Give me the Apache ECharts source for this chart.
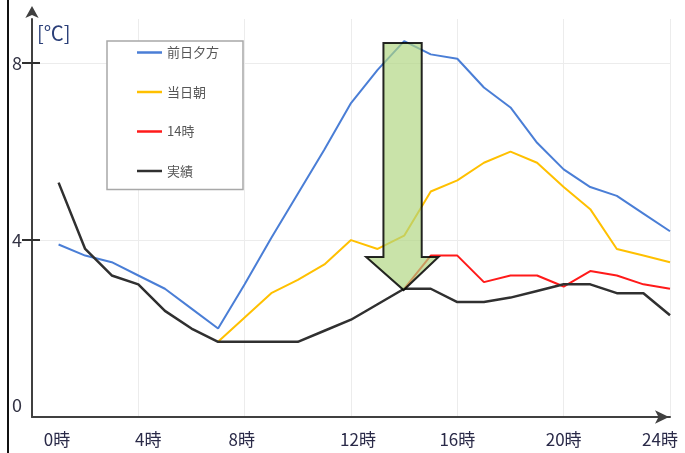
<!DOCTYPE html>
<html>
<head>
<meta charset="utf-8">
<script src="https://cdn.jsdelivr.net/npm/echarts@6/dist/echarts.min.js"></script>
<style>
  html, body { margin: 0; padding: 0; background: #fff; }
  #chart { width: 685px; height: 453px; }
</style>
</head>
<body>
<div id="chart"></div>
<script>
// hours on the x axis (時)
const hours = [1, 2, 3, 4, 5, 6, 7, 8, 9, 10, 11, 12, 13, 14, 15, 16, 17, 18, 19, 20, 21, 22, 23, 24];
const xTicks = [0, 4, 8, 12, 16, 20, 24];
const yTicks = [0, 4, 8];

// 前日夕方 forecast, hours 1..24
const zenjitsuYugata = [3.9, 3.65, 3.5, 3.2, 2.9, 2.45, 2.0, 3.0, 4.05, 5.05, 6.05, 7.1,
  7.85, 8.5, 8.2, 8.1, 7.45, 7.0, 6.2, 5.6, 5.2, 5.0, 4.6, 4.2];
// 当日朝 forecast, hours 7..24
const tojitsuAsa = [1.7, 2.25, 2.8, 3.1, 3.45, 4.0, 3.8, 4.1, 5.1, 5.35, 5.75, 6.0,
  5.75, 5.2, 4.7, 3.8, 3.65, 3.5];
// 14時 forecast, hours 14..24
const juyoji = [2.9, 3.65, 3.65, 3.05, 3.2, 3.2, 2.95, 3.3, 3.2, 3.0, 2.9];
// 実績, hours 1..24
const jisseki = [5.3, 3.8, 3.2, 3.0, 2.4, 2.0, 1.7, 1.7, 1.7, 1.7, 1.95, 2.2,
  2.55, 2.9, 2.9, 2.6, 2.6, 2.7, 2.85, 3.0, 3.0, 2.8, 2.8, 2.3];

// big down arrow annotation, outline in [hour, ℃]
const arrowShape = [[13.22, 8.46], [14.66, 8.46], [14.66, 3.62], [15.29, 3.62],
  [13.98, 2.87], [12.57, 3.62], [13.22, 3.62]];

const FONT = '"Noto Sans CJK JP", "Noto Sans", sans-serif';

// pair each value with its hour, the series starts at hours[first]
function pairs(values, firstHour) {
  const start = hours.indexOf(firstHour);
  return values.map((v, i) => [hours[start + i], v]);
}

// shift some hour labels the way the original picture has them
const labelShift = { 0: 25, 4: 10, 8: -3, 12: 7, 24: -10 };
const rich = {};
xTicks.forEach(t => {
  const s = labelShift[t] || 0;
  rich['h' + t] = {
    fontSize: 17, color: '#2a2a48', fontFamily: FONT,
    padding: s >= 0 ? [0, 0, 0, 2 * s] : [0, -2 * s, 0, 0]
  };
});

const chart = echarts.init(document.getElementById('chart'));

chart.setOption({
  animation: false,
  backgroundColor: '#fff',
  textStyle: { fontFamily: FONT },
  grid: { left: 32, right: 15, top: 19, bottom: 36, outerBoundsMode: 'none' },
  legend: {
    orient: 'vertical',
    left: 107,
    top: 41,
    backgroundColor: '#fff',
    borderColor: '#a8a8a8',
    borderWidth: 1.5,
    padding: [5, 24, 12, 30],
    itemGap: 26.5,
    itemWidth: 25,
    itemHeight: 2.5,
    icon: 'rect',
    textStyle: { fontSize: 13, color: '#555', fontFamily: FONT },
    data: ['前日夕方', '当日朝', '14時', '実績']
  },
  xAxis: {
    type: 'value',
    min: 0,
    max: 24,
    interval: 4,
    axisLine: {
      show: true,
      onZero: false,
      lineStyle: { color: '#404040', width: 2 },
      symbol: ['none', 'arrow'],
      symbolSize: [10, 14],
      symbolOffset: [0, -1]
    },
    axisTick: { show: false },
    axisLabel: {
      margin: 14,
      formatter: v => '{h' + v + '|' + v + '時}',
      rich: rich
    },
    splitLine: { show: true, lineStyle: { color: '#ececec', width: 1 } }
  },
  yAxis: [{
    type: 'value',
    min: 0,
    max: 9,
    interval: 1,
    name: '[℃]',
    nameLocation: 'end',
    nameGap: -24,
    nameTextStyle: {
      fontSize: 20, color: '#2b3f78', align: 'left', padding: [0, 0, 0, 5], fontFamily: FONT
    },
    axisLine: {
      show: true,
      onZero: false,
      lineStyle: { color: '#404040', width: 2 },
      symbol: ['none', 'arrow'],
      symbolSize: [10, 12],
      symbolOffset: [0, 13]
    },
    axisTick: {
      show: true,
      customValues: [4, 8],
      length: 10,
      lineStyle: { color: '#303030', width: 2 }
    },
    axisLabel: {
      customValues: yTicks,
      margin: 10,
      fontSize: 18,
      color: '#333344',
      formatter: v => v === 0 ? '{z|0}' : String(v),
      rich: { z: { fontSize: 18, color: '#333344', padding: [0, 0, 24, 0] } }
    },
    splitLine: { show: true, lineStyle: { color: '#ececec', width: 1 } }
  }, {
    // inner half of the crossing ticks at 4 and 8
    type: 'value',
    min: 0,
    max: 9,
    interval: 1,
    position: 'left',
    axisLine: { show: false },
    axisTick: {
      show: true,
      inside: true,
      customValues: [4, 8],
      length: 8,
      lineStyle: { color: '#303030', width: 2 }
    },
    axisLabel: { show: false },
    splitLine: { show: false }
  }],
  series: [
    {
      name: '前日夕方', type: 'line', symbol: 'none', z: 3,
      color: '#4a7ed6', lineStyle: { width: 2 },
      data: pairs(zenjitsuYugata, 1)
    },
    {
      name: '当日朝', type: 'line', symbol: 'none', z: 3,
      color: '#ffc000', lineStyle: { width: 2 },
      data: pairs(tojitsuAsa, 7)
    },
    {
      name: '14時', type: 'line', symbol: 'none', z: 3,
      color: '#ff1a1a', lineStyle: { width: 2 },
      data: pairs(juyoji, 14)
    },
    {
      name: '実績', type: 'line', symbol: 'none', z: 3,
      color: '#303030', lineStyle: { width: 2.5 },
      data: pairs(jisseki, 1)
    },
    {
      type: 'custom', z: 4, silent: true,
      data: [[14, 5]],
      renderItem: function (params, api) {
        const pts = arrowShape.map(p => api.coord(p));
        return {
          type: 'polygon',
          shape: { points: pts },
          style: { fill: 'rgba(176,214,128,0.68)', stroke: 'rgba(0,0,0,0.85)', lineWidth: 2 }
        };
      }
    }
  ],
  graphic: [{
    type: 'rect',
    shape: { x: 7, y: 0, width: 2, height: 453 },
    style: { fill: '#111' },
    silent: true
  }]
});
</script>
</body>
</html>
